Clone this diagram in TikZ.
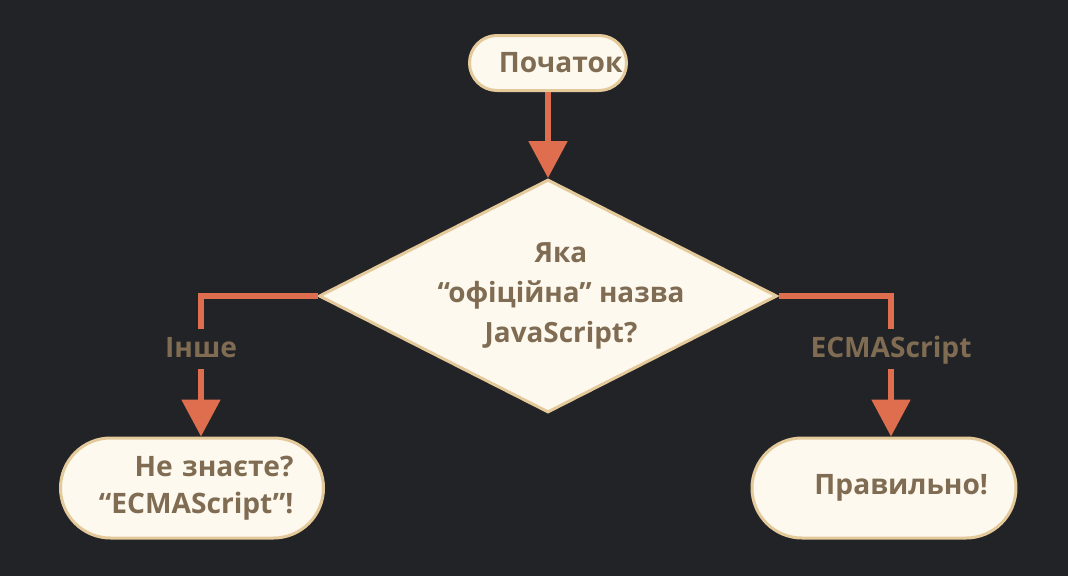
\documentclass[tikz,border=0pt]{standalone}
\usepackage{fontspec}
\setmainfont{Open Sans}
\usetikzlibrary{shapes.geometric, arrows.meta, calc}

\definecolor{bgdark}{HTML}{222327}
\definecolor{boxfill}{HTML}{FDF9EE}
\definecolor{boxline}{HTML}{E4C99A}
\definecolor{boxtext}{HTML}{7F6C52}
\definecolor{flowred}{HTML}{DF6E4E}

\begin{document}
\begin{tikzpicture}[x=0.75pt, y=-0.75pt,
    terminal/.style={draw=boxline, fill=boxfill, line width=2.25pt, text=boxtext,
        font=\bfseries\fontsize{21.1}{28}\selectfont, align=right, inner ysep=0pt},
    decision/.style={diamond, draw=boxline, fill=boxfill, line width=2.25pt,
        inner sep=0pt, minimum width=343.5pt, minimum height=174.75pt},
    question/.style={text=boxtext, font=\bfseries\fontsize{20.9}{30}\selectfont, align=center},
    branch/.style={fill=bgdark, text=boxtext, font=\bfseries\fontsize{21.1}{28}\selectfont,
        inner xsep=2pt, inner ysep=0pt, text height=21pt, text depth=9pt},
    flow/.style={draw=flowred, line width=4pt, -{Triangle[width=28.5pt, length=27.75pt]}}]
    % Background
    \fill[bgdark] (0,0) rectangle (1068,576);

    % Start
    \node[terminal, minimum height=41.25pt, rounded corners=20.6pt,
        inner xsep=3pt, text width=111.75pt] (start) at (548,63) {Початок};

    % The question
    \node[decision] (q) at (548,296) {};
    \node[question] (qtext) at (561,296) {Яка\\“офіційна” назва\\JavaScript?};

    % Answers
    \node[terminal, minimum height=75pt, rounded corners=37.5pt,
        inner xsep=22.5pt, text width=152.25pt] (other) at (192,488) {Не знаєте?\\“ECMAScript”!};
    \node[terminal, minimum height=75pt, rounded corners=37.5pt,
        inner xsep=21pt, text width=156pt] (right) at (884,488) {Правильно!};

    % Connectors
    \draw[flow] (start) -- (q);
    \draw[flow] (q.west) -| node[branch, pos=0.69] {Інше} ([xshift=6.75pt]other.north);
    \draw[flow] (q.east) -| node[branch, pos=0.69] {ECMAScript} ([xshift=5.25pt]right.north);
\end{tikzpicture}
\end{document}
